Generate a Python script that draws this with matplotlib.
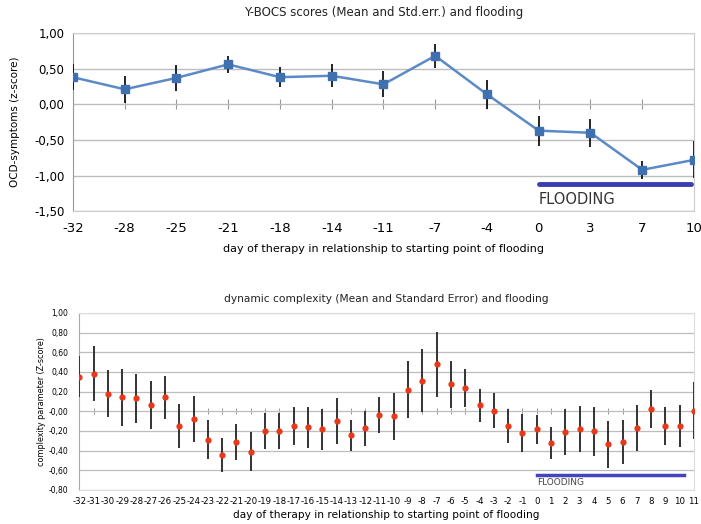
import numpy as np
import matplotlib.pyplot as plt
from matplotlib.ticker import FuncFormatter

# Y-BOCS (oben)
tage_oben = ['-32', '-28', '-25', '-21', '-18', '-14', '-11', '-7', '-4', '0', '3', '7', '10']
ybocs = [0.38, 0.21, 0.37, 0.56, 0.38, 0.40, 0.28, 0.68, 0.14, -0.37, -0.40, -0.92, -0.78]
ybocs_err = [0.18, 0.19, 0.18, 0.12, 0.14, 0.16, 0.18, 0.17, 0.20, 0.21, 0.20, 0.13, 0.26]

# dynamische Komplexitaet (unten)
tage_unten = [str(t) for t in range(-32, 12)]
komplex = [0.35, 0.38, 0.18, 0.14, 0.13, 0.06, 0.14, -0.15, -0.08, -0.29,
           -0.445, -0.31, -0.41, -0.20, -0.20, -0.15, -0.165, -0.185, -0.10, -0.245,
           -0.175, -0.04, -0.05, 0.22, 0.31, 0.475, 0.275, 0.235, 0.06, 0.007,
           -0.15, -0.22, -0.185, -0.325, -0.21, -0.18, -0.205, -0.335, -0.31, -0.17,
           0.025, -0.15, -0.15, 0.007]
komplex_err = [0.21, 0.28, 0.24, 0.29, 0.25, 0.245, 0.22, 0.22, 0.235, 0.20,
               0.17, 0.185, 0.20, 0.18, 0.18, 0.19, 0.205, 0.21, 0.235, 0.155,
               0.18, 0.18, 0.24, 0.29, 0.32, 0.33, 0.24, 0.19, 0.165, 0.175,
               0.17, 0.19, 0.15, 0.16, 0.235, 0.23, 0.25, 0.24, 0.225, 0.23,
               0.195, 0.195, 0.21, 0.29]

komma = FuncFormatter(lambda v, p: f'{v:.2f}'.replace('.', ','))
grau = '#bdbdbd'

fig = plt.figure(figsize=(7.01, 5.24), dpi=100)

# ---------- oberes Diagramm ----------
ax1 = fig.add_axes([0.104, 0.597, 0.886, 0.340])
x1 = np.arange(len(tage_oben))
ax1.errorbar(x1, ybocs, yerr=ybocs_err, fmt='none', ecolor='black', elinewidth=1.2, zorder=3)
ax1.plot(x1, ybocs, color='#5b8ac6', lw=1.8, marker='s', ms=5.5,
         mfc='#3f70b0', mec='#3f70b0', zorder=4)
ax1.plot(x1, np.zeros(len(x1)), ls='none', marker='|', ms=7, color='#999999', mew=0.8, zorder=1)
ax1.set_xlim(0, len(x1) - 1)
ax1.set_ylim(-1.5, 1.0)
ax1.set_yticks(np.arange(-1.5, 1.01, 0.5))
ax1.yaxis.set_major_formatter(komma)
ax1.set_xticks(x1)
ax1.set_xticklabels(tage_oben, fontsize=9.5)
ax1.tick_params(axis='y', labelsize=8.5, length=0, pad=6)
ax1.tick_params(axis='x', length=0, pad=8)
ax1.grid(axis='y', color=grau, lw=1)
for s in ax1.spines.values():
    s.set_color('#cccccc')
ax1.spines['left'].set_color('#999999')
i0 = tage_oben.index('0')
ax1.plot([i0, len(x1) - 1.05], [-1.12, -1.12], color='#3a3fb0', lw=3.5, solid_capstyle='round')
ax1.text(i0, -1.33, 'FLOODING', fontsize=10.5, color='#333333', va='center')
ax1.set_title('Y-BOCS scores (Mean and Std.err.) and flooding', fontsize=8.5, pad=12, color='#222222')
ax1.set_xlabel('day of therapy in relationship to starting point of flooding', fontsize=8, labelpad=6)
ax1.set_ylabel('OCD-symptoms (z-score)', fontsize=7.5, labelpad=10)

# ---------- unteres Diagramm ----------
ax2 = fig.add_axes([0.113, 0.065, 0.877, 0.338])
x2 = np.arange(len(tage_unten))
ax2.errorbar(x2, komplex, yerr=komplex_err, fmt='none', ecolor='#333333', elinewidth=1.4, zorder=3)
ax2.plot(x2, komplex, ls='none', marker='o', ms=3.5, color='#e8381a', zorder=4)
ax2.plot(x2, np.zeros(len(x2)), ls='none', marker='|', ms=5, color='#999999', mew=0.7, zorder=1)
ax2.set_xlim(0, len(x2) - 1)
ax2.set_ylim(-0.8, 1.0)
ax2.set_yticks(np.arange(-0.8, 1.01, 0.2))
ax2.yaxis.set_major_formatter(komma)
ax2.set_xticks(x2)
ax2.set_xticklabels(tage_unten, fontsize=6.2)
ax2.tick_params(axis='y', labelsize=5.5, length=0, pad=8)
ax2.tick_params(axis='x', length=0, pad=5)
ax2.grid(axis='y', color=grau, lw=0.9)
for s in ax2.spines.values():
    s.set_color('#dddddd')
ax2.spines['left'].set_color('#aaaaaa')
j0 = tage_unten.index('0')
ax2.plot([j0, len(x2) - 1.7], [-0.645, -0.645], color='#4444c0', lw=2.5)
ax2.text(j0, -0.72, 'FLOODING', fontsize=6.5, color='#444444', va='center')
ax2.set_title('dynamic complexity (Mean and Standard Error) and flooding', fontsize=7.7, pad=8, color='#222222')
ax2.set_xlabel('day of therapy in relationship to starting point of flooding', fontsize=7.6, labelpad=3)
ax2.set_ylabel('complexity parameter (Z-score)', fontsize=5.8, labelpad=2)

fig.savefig('out.png', dpi=100)
